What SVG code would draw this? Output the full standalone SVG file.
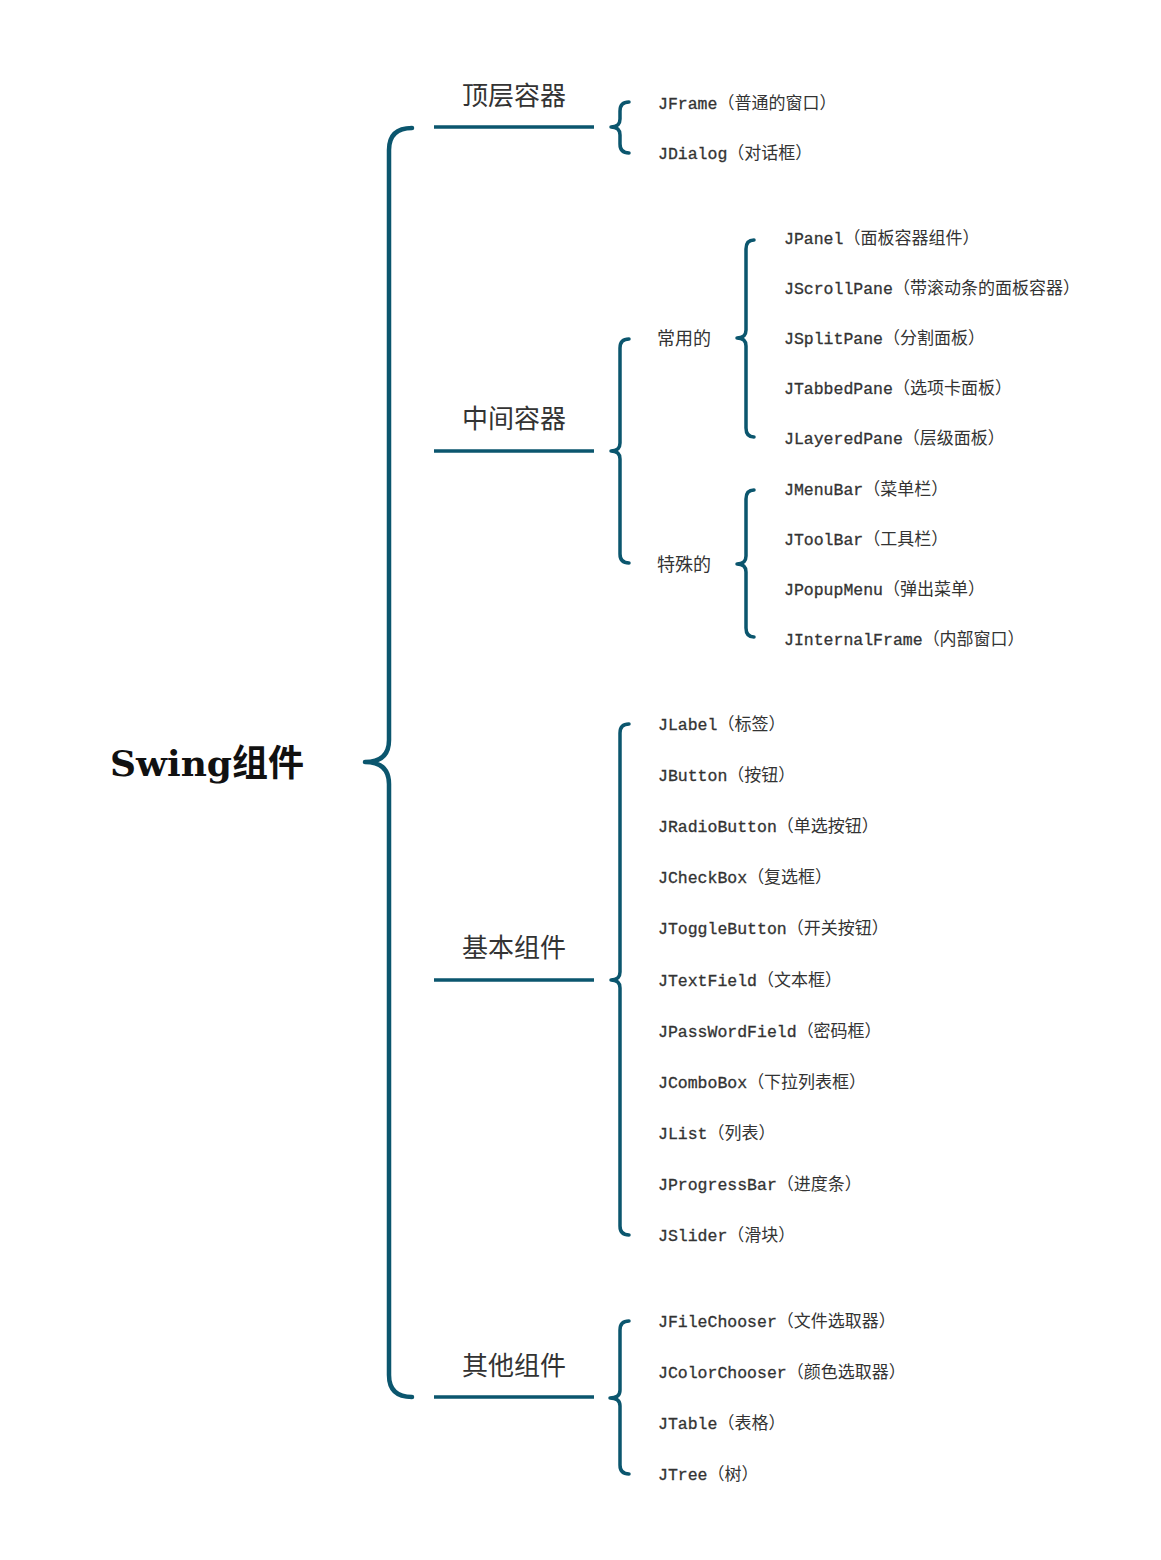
<svg xmlns="http://www.w3.org/2000/svg" width="1161" height="1560" viewBox="0 0 1161 1560">
<style>
.br{fill:none;stroke:#0b566e;stroke-width:3.5;stroke-linecap:round;stroke-linejoin:round}
.big{fill:none;stroke:#0b566e;stroke-width:4.5;stroke-linecap:round;stroke-linejoin:round}
.ul{stroke:#0b566e;stroke-width:3.5}
.cat{font-family:"Noto Sans CJK SC","Noto Sans",sans-serif;font-size:26px;fill:#333;text-anchor:middle}
.sub{font-family:"Noto Sans CJK SC","Noto Sans",sans-serif;font-size:18px;fill:#333}
.leaf{font-family:"Liberation Mono","Noto Sans CJK SC",monospace;font-size:17px;fill:#333}
.l{font-size:16.5px;stroke:#333;stroke-width:0.3}
.root{font-family:"DejaVu Serif","Noto Sans CJK SC",serif;font-size:36px;font-weight:bold;fill:#111}
</style>
<rect width="1161" height="1560" fill="#fff"/>
<g id="connectors">
<path class="big" d="M412,128 Q389,128 389,150 L389,740 Q389,762 365,762 Q389,762 389,784 L389,1375 Q389,1397 412,1397"/>
<line class="ul" x1="434" y1="127" x2="594" y2="127"/>
<line class="ul" x1="434" y1="451" x2="594" y2="451"/>
<line class="ul" x1="434" y1="980" x2="594" y2="980"/>
<line class="ul" x1="434" y1="1397" x2="594" y2="1397"/>
<path class="br" d="M629,102 Q620,102 620,111 L620,119 Q620,127 611,127 Q620,127 620,135 L620,144 Q620,153 629,153"/>
<path class="br" d="M629,339 Q620,339 620,348 L620,443 Q620,451 611,451 Q620,451 620,459 L620,554 Q620,563 629,563"/>
<path class="br" d="M754,240 Q746,240 746,249 L746,330 Q746,338 737,338 Q746,338 746,346 L746,428 Q746,437 754,437"/>
<path class="br" d="M754,490 Q746,490 746,499 L746,556 Q746,564 737,564 Q746,564 746,572 L746,628 Q746,637 754,637"/>
<path class="br" d="M629,724 Q620,724 620,733 L620,972 Q620,980 611,980 Q620,980 620,988 L620,1226 Q620,1235 629,1235"/>
<path class="br" d="M629,1321 Q620,1321 620,1330 L620,1390 Q620,1398 610,1398 Q620,1398 620,1406 L620,1465 Q620,1474 629,1474"/>
</g>
<g id="root"><text class="root" x="110" y="776">Swing组件</text></g>
<g id="cat-top"><text class="cat" x="514" y="105">顶层容器</text></g>
<g id="cat-mid"><text class="cat" x="514" y="428">中间容器</text></g>
<g id="cat-basic"><text class="cat" x="514" y="957">基本组件</text></g>
<g id="cat-other"><text class="cat" x="514" y="1375">其他组件</text></g>
<g id="sub-common"><text class="sub" x="657" y="345">常用的</text></g>
<g id="sub-special"><text class="sub" x="657" y="571">特殊的</text></g>
<g id="leaves-top">
<text class="leaf" x="658" y="109"><tspan class="l">JFrame</tspan>（普通的窗口）</text>
<text class="leaf" x="658" y="159"><tspan class="l">JDialog</tspan>（对话框）</text>
</g>
<g id="leaves-common">
<text class="leaf" x="784" y="244"><tspan class="l">JPanel</tspan>（面板容器组件）</text>
<text class="leaf" x="784" y="294"><tspan class="l">JScrollPane</tspan>（带滚动条的面板容器）</text>
<text class="leaf" x="784" y="344"><tspan class="l">JSplitPane</tspan>（分割面板）</text>
<text class="leaf" x="784" y="394"><tspan class="l">JTabbedPane</tspan>（选项卡面板）</text>
<text class="leaf" x="784" y="444"><tspan class="l">JLayeredPane</tspan>（层级面板）</text>
</g>
<g id="leaves-special">
<text class="leaf" x="784" y="495"><tspan class="l">JMenuBar</tspan>（菜单栏）</text>
<text class="leaf" x="784" y="545"><tspan class="l">JToolBar</tspan>（工具栏）</text>
<text class="leaf" x="784" y="595"><tspan class="l">JPopupMenu</tspan>（弹出菜单）</text>
<text class="leaf" x="784" y="645"><tspan class="l">JInternalFrame</tspan>（内部窗口）</text>
</g>
<g id="leaves-basic">
<text class="leaf" x="658" y="730"><tspan class="l">JLabel</tspan>（标签）</text>
<text class="leaf" x="658" y="781"><tspan class="l">JButton</tspan>（按钮）</text>
<text class="leaf" x="658" y="832"><tspan class="l">JRadioButton</tspan>（单选按钮）</text>
<text class="leaf" x="658" y="883"><tspan class="l">JCheckBox</tspan>（复选框）</text>
<text class="leaf" x="658" y="934"><tspan class="l">JToggleButton</tspan>（开关按钮）</text>
<text class="leaf" x="658" y="986"><tspan class="l">JTextField</tspan>（文本框）</text>
<text class="leaf" x="658" y="1037"><tspan class="l">JPassWordField</tspan>（密码框）</text>
<text class="leaf" x="658" y="1088"><tspan class="l">JComboBox</tspan>（下拉列表框）</text>
<text class="leaf" x="658" y="1139"><tspan class="l">JList</tspan>（列表）</text>
<text class="leaf" x="658" y="1190"><tspan class="l">JProgressBar</tspan>（进度条）</text>
<text class="leaf" x="658" y="1241"><tspan class="l">JSlider</tspan>（滑块）</text>
</g>
<g id="leaves-other">
<text class="leaf" x="658" y="1327"><tspan class="l">JFileChooser</tspan>（文件选取器）</text>
<text class="leaf" x="658" y="1378"><tspan class="l">JColorChooser</tspan>（颜色选取器）</text>
<text class="leaf" x="658" y="1429"><tspan class="l">JTable</tspan>（表格）</text>
<text class="leaf" x="658" y="1480"><tspan class="l">JTree</tspan>（树）</text>
</g>
</svg>
